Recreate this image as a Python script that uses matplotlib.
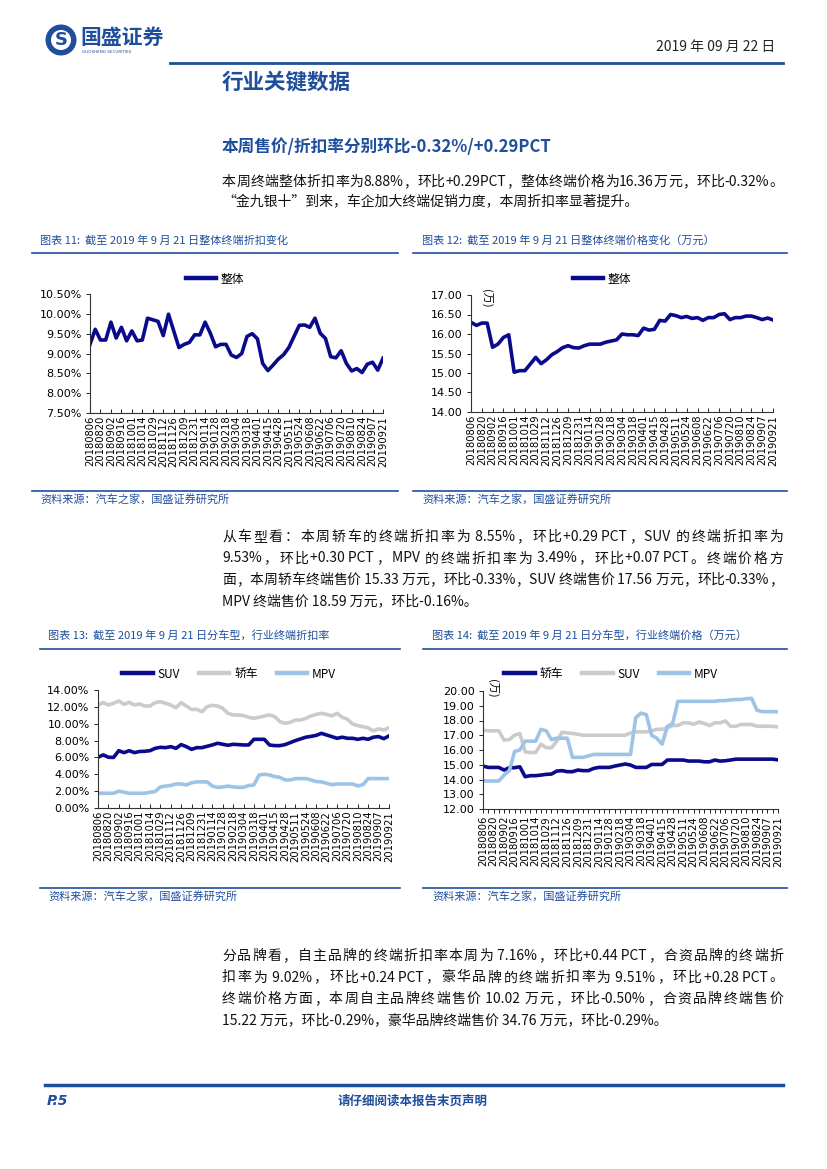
import re
import numpy as np
import matplotlib.pyplot as plt
from matplotlib.lines import Line2D
from matplotlib.patches import Ellipse

plt.rcParams['font.family'] = ['Noto Sans CJK SC', 'DejaVu Sans']

W, H = 827, 1169

# --- data ---
tick_labels = ["20180806", "20180820", "20180902", "20180916", "20181001", "20181014",
               "20181029", "20181112", "20181126", "20181209", "20181231", "20190114",
               "20190128", "20190218", "20190304", "20190318", "20190401", "20190415",
               "20190428", "20190511", "20190524", "20190608", "20190622", "20190706",
               "20190720", "20190810", "20190824", "20190907", "20190921"]

overall_discount = [9.23, 9.61, 9.34, 9.34, 9.79, 9.39, 9.66, 9.32, 9.57, 9.32,
                    9.34, 9.89, 9.85, 9.81, 9.45, 9.99, 9.57, 9.15, 9.23, 9.28,
                    9.47, 9.47, 9.79, 9.51, 9.17, 9.23, 9.23, 8.96, 8.90, 9.00,
                    9.43, 9.50, 9.37, 8.75, 8.57, 8.71, 8.86, 8.97, 9.15, 9.43,
                    9.71, 9.72, 9.66, 9.89, 9.51, 9.38, 8.92, 8.89, 9.07, 8.75,
                    8.56, 8.62, 8.52, 8.73, 8.78, 8.58, 8.88]

overall_price = [16.30, 16.22, 16.28, 16.28, 15.66, 15.74, 15.91, 15.98, 15.02, 15.06,
                 15.06, 15.23, 15.40, 15.24, 15.34, 15.47, 15.55, 15.65, 15.70, 15.65,
                 15.64, 15.70, 15.74, 15.74, 15.74, 15.79, 15.82, 15.85, 16.00, 15.98,
                 15.98, 15.96, 16.15, 16.10, 16.12, 16.35, 16.33, 16.50, 16.47, 16.42,
                 16.45, 16.40, 16.42, 16.35, 16.42, 16.42, 16.50, 16.52, 16.37, 16.42,
                 16.42, 16.46, 16.46, 16.42, 16.37, 16.41, 16.36]

suv_discount = [6.02, 6.30, 6.02, 6.00, 6.80, 6.57, 6.80, 6.57, 6.70, 6.73,
                6.80, 7.08, 7.20, 7.16, 7.28, 7.08, 7.52, 7.28, 6.96, 7.16,
                7.16, 7.32, 7.48, 7.68, 7.56, 7.44, 7.56, 7.52, 7.48, 7.48,
                8.15, 8.15, 8.15, 7.48, 7.40, 7.40, 7.52, 7.76, 8.00, 8.20,
                8.40, 8.50, 8.62, 8.86, 8.66, 8.47, 8.27, 8.40, 8.27, 8.27,
                8.15, 8.27, 8.15, 8.40, 8.47, 8.23, 8.55]

sedan_discount = [12.22, 12.50, 12.22, 12.42, 12.70, 12.30, 12.54, 12.22, 12.34, 12.10,
                  12.10, 12.50, 12.62, 12.42, 12.22, 11.90, 12.50, 12.10, 11.70, 11.70,
                  11.43, 12.02, 12.18, 12.10, 11.83, 11.23, 11.04, 11.04, 10.96, 10.76,
                  10.64, 10.76, 10.92, 11.04, 10.84, 10.25, 10.05, 10.17, 10.44, 10.44,
                  10.64, 10.92, 11.11, 11.23, 11.11, 10.92, 11.23, 10.76, 10.52, 9.97,
                  9.77, 9.65, 9.50, 9.15, 9.40, 9.25, 9.53]

mpv_discount = [1.75, 1.75, 1.75, 1.75, 2.00, 1.87, 1.75, 1.75, 1.75, 1.75,
                1.87, 1.95, 2.50, 2.60, 2.67, 2.85, 2.85, 2.73, 3.00, 3.10,
                3.10, 3.10, 2.60, 2.45, 2.50, 2.60, 2.50, 2.45, 2.45, 2.67,
                2.73, 3.92, 4.00, 3.92, 3.72, 3.64, 3.33, 3.33, 3.49, 3.49,
                3.49, 3.33, 3.13, 3.10, 2.93, 2.77, 2.85, 2.85, 2.85, 2.85,
                2.62, 2.77, 3.49, 3.49, 3.49, 3.49, 3.49]

sedan_price = [14.91, 14.82, 14.82, 14.82, 14.64, 14.80, 14.80, 14.86, 14.19, 14.26,
               14.26, 14.30, 14.35, 14.37, 14.57, 14.60, 14.53, 14.53, 14.64, 14.60,
               14.60, 14.75, 14.82, 14.82, 14.82, 14.91, 14.98, 15.05, 14.98, 14.82,
               14.82, 14.82, 15.02, 15.02, 15.02, 15.32, 15.32, 15.32, 15.32, 15.25,
               15.25, 15.25, 15.20, 15.20, 15.32, 15.25, 15.27, 15.32, 15.38, 15.38,
               15.38, 15.38, 15.38, 15.38, 15.38, 15.38, 15.33]

suv_price = [17.34, 17.30, 17.30, 17.30, 16.67, 16.71, 17.00, 17.12, 15.88, 15.83,
             15.83, 16.40, 16.15, 16.15, 16.60, 17.20, 17.16, 17.12, 17.07, 17.00,
             17.00, 17.00, 17.00, 17.00, 17.00, 17.00, 17.00, 17.00, 17.16, 17.23,
             17.23, 17.23, 17.30, 17.40, 17.40, 17.50, 17.66, 17.66, 17.84, 17.84,
             17.75, 17.90, 17.80, 17.66, 17.84, 17.84, 17.97, 17.61, 17.61, 17.73,
             17.73, 17.73, 17.61, 17.61, 17.61, 17.61, 17.56]

mpv_price = [13.90, 13.90, 13.90, 13.90, 14.30, 14.60, 15.90, 16.00, 16.60, 16.60,
             16.60, 17.40, 17.30, 16.70, 16.80, 16.80, 16.80, 15.50, 15.50, 15.50,
             15.60, 15.70, 15.70, 15.70, 15.70, 15.70, 15.70, 15.70, 15.70, 18.20,
             18.50, 18.40, 17.00, 16.80, 16.40, 17.60, 17.80, 19.30, 19.30, 19.30,
             19.30, 19.30, 19.30, 19.30, 19.30, 19.35, 19.35, 19.40, 19.42, 19.42,
             19.48, 19.50, 18.70, 18.60, 18.60, 18.60, 18.59]

body1 = ["本周终端整体折扣率为8.88%，环比+0.29PCT，整体终端价格为16.36万元，环比-0.32%。",
         "“金九银十”到来，车企加大终端促销力度，本周折扣率显著提升。"]
body2 = ["从车型看：本周轿车的终端折扣率为 8.55%，环比+0.29 PCT，SUV 的终端折扣率为",
         "9.53%，环比+0.30 PCT，MPV 的终端折扣率为 3.49%，环比+0.07 PCT。终端价格方",
         "面，本周轿车终端售价 15.33 万元，环比-0.33%，SUV 终端售价 17.56 万元，环比-0.33%，",
         "MPV 终端售价 18.59 万元，环比-0.16%。"]
body3 = ["分品牌看，自主品牌的终端折扣率本周为 7.16%，环比+0.44 PCT，合资品牌的终端折",
         "扣率为 9.02%，环比+0.24 PCT，豪华品牌的终端折扣率为 9.51%，环比+0.28 PCT。",
         "终端价格方面，本周自主品牌终端售价 10.02 万元，环比-0.50%，合资品牌终端售价",
         "15.22 万元，环比-0.29%，豪华品牌终端售价 34.76 万元，环比-0.29%。"]

NAVY = "#0A0A8C"
GRAY = "#CBCBCB"
LIGHT = "#9DC3E6"
BLUE = "#1F4E9C"

fig = plt.figure(figsize=(8.27, 11.69), dpi=100)
renderer = fig.canvas.get_renderer()


def text(x, y, s, **kw):
    kw.setdefault("va", "center")
    return fig.text(x / W, 1 - y / H, s, **kw)


def hline(x0, x1, y, lw=1.2, color=BLUE):
    fig.add_artist(Line2D([x0 / W, x1 / W], [1 - y / H] * 2, lw=lw, color=color))


def paragraph(lines, x0, x1, y0, dy, **kw):
    # justified lines, the last one left aligned
    for i, line in enumerate(lines):
        y = y0 + i * dy
        if i == len(lines) - 1:
            text(x0, y, line, **kw)
            continue
        tokens = re.findall(r"[\x20-\x7e]+|.", line)
        items = [text(x0, y, tok, **kw) for tok in tokens]
        widths = [t.get_window_extent(renderer).width for t in items]
        gap = (x1 - x0 - sum(widths)) / max(len(items) - 1, 1)
        x = x0
        for t, w in zip(items, widths):
            t.set_x(x / W)
            x += w + gap


def make_axes(left, top, right, bottom):
    return fig.add_axes([left / W, 1 - bottom / H, (right - left) / W, (bottom - top) / H])


def draw_chart(ax, series, names, colors, ylim, yticks, yfmt, legend_xy,
               tick_step=2, tick_dir="in"):
    x = np.arange(len(series[0]))
    for vals, name, c in zip(series, names, colors):
        ax.plot(x, vals, color=c, lw=2.6, label=name, solid_joinstyle="round")
    ax.set_xlim(0, len(x) - 1)
    ax.set_ylim(*ylim)
    ax.set_yticks(yticks)
    ax.set_yticklabels([yfmt.format(v) for v in yticks], fontsize=8,
                       family="DejaVu Sans")
    ax.set_xticks(x[::2])
    ax.set_xticklabels(tick_labels, rotation=90, fontsize=7.2, family="DejaVu Sans")
    if tick_step == 1:
        ax.set_xticks(x, minor=True)
        ax.tick_params(axis="x", which="minor", length=3, direction=tick_dir, width=0.6)
    ax.tick_params(axis="x", length=3, direction=tick_dir, width=0.6, pad=2)
    ax.tick_params(axis="y", length=3, width=0.6, pad=3)
    for s in ["top", "right"]:
        ax.spines[s].set_visible(False)
    for s in ["left", "bottom"]:
        ax.spines[s].set_linewidth(0.8)
        ax.spines[s].set_color("#333333")
    leg = ax.legend(loc="center", bbox_to_anchor=(legend_xy[0] / W, 1 - legend_xy[1] / H),
                    bbox_transform=fig.transFigure, ncol=len(series), frameon=False,
                    fontsize=8.5, handlelength=2.6, columnspacing=1.6, handletextpad=0.4)
    for h in leg.get_lines():
        h.set_linewidth(3.2)
    return ax


# --- header ---
fig.add_artist(Ellipse((61 / W, 1 - 40 / H), 31 / W, 31 / H, transform=fig.transFigure,
                       facecolor=BLUE, edgecolor="none"))
fig.add_artist(Ellipse((61 / W, 1 - 40 / H), 20 / W, 20 / H, transform=fig.transFigure,
                       facecolor="white", edgecolor="none"))
text(61, 40, "S", ha="center", fontsize=13, color=BLUE, weight="bold", family="DejaVu Sans")
text(80, 37, "国盛证券", fontsize=15, color=BLUE, weight="bold")
text(82, 52, "GUOSHENG SECURITIES", fontsize=3, color=BLUE, family="DejaVu Sans")
text(775, 47, "2019 年 09 月 22 日", ha="right", fontsize=10, color="#222222")
hline(170, 783, 63, lw=2.0)

text(222, 82, "行业关键数据", fontsize=15.5, color=BLUE, weight="bold")
text(222, 147, "本周售价/折扣率分别环比-0.32%/+0.29PCT", fontsize=12, color=BLUE, weight="bold")

body_kw = dict(fontsize=10, color="#111111")
paragraph(body1, 222, 783, 182, 20, **body_kw)
paragraph(body2, 222, 783, 537, 21.5, **body_kw)
paragraph(body3, 222, 783, 956, 21.5, **body_kw)

# --- captions / source lines ---
cap_kw = dict(fontsize=8, color=BLUE, style="italic")
text(40, 240, "图表 11:  截至 2019 年 9 月 21 日整体终端折扣变化", **cap_kw)
text(422, 240, "图表 12:  截至 2019 年 9 月 21 日整体终端价格变化（万元）", **cap_kw)
hline(32, 398, 253)
hline(413, 787, 253)
hline(32, 398, 491)
hline(413, 787, 491)
text(40, 499, "资料来源：汽车之家，国盛证券研究所", **cap_kw)
text(422, 499, "资料来源：汽车之家，国盛证券研究所", **cap_kw)

text(48, 635, "图表 13:  截至 2019 年 9 月 21 日分车型，行业终端折扣率", **cap_kw)
text(432, 635, "图表 14:  截至 2019 年 9 月 21 日分车型，行业终端价格（万元）", **cap_kw)
hline(40, 400, 649)
hline(423, 787, 649)
hline(40, 400, 888)
hline(423, 787, 888)
text(48, 896, "资料来源：汽车之家，国盛证券研究所", **cap_kw)
text(432, 896, "资料来源：汽车之家，国盛证券研究所", **cap_kw)

# --- charts ---
ax1 = make_axes(90, 294, 383, 413)
draw_chart(ax1, [overall_discount], ["整体"], [NAVY], (7.5, 10.5),
           np.arange(7.5, 10.51, 0.5), "{:.2f}%", (215, 279))

ax2 = make_axes(471, 295, 773, 412)
draw_chart(ax2, [overall_price], ["整体"], [NAVY], (14.0, 17.0),
           np.arange(14.0, 17.01, 0.5), "{:.2f}", (602, 279))
text(486, 298, "(万)", rotation=270, ha="center", fontsize=8)

ax3 = make_axes(98, 690, 389, 808)
draw_chart(ax3, [suv_discount, sedan_discount, mpv_discount], ["SUV", "轿车", "MPV"],
           [NAVY, GRAY, LIGHT], (0, 14), np.arange(0, 14.1, 2), "{:.2f}%", (229, 674))

ax4 = make_axes(483, 691, 778, 809)
draw_chart(ax4, [sedan_price, suv_price, mpv_price], ["轿车", "SUV", "MPV"],
           [NAVY, GRAY, LIGHT], (12, 20), np.arange(12, 20.1, 1), "{:.2f}", (611, 674),
           tick_step=1, tick_dir="out")
text(492, 688, "(万)", rotation=270, ha="center", fontsize=8)

# --- footer ---
hline(45, 783, 1085, lw=2.5)
text(47, 1101, "P.5", fontsize=10, color=BLUE, weight="bold", style="italic",
     family="DejaVu Sans")
text(413, 1101, "请仔细阅读本报告末页声明", ha="center", fontsize=9, color=BLUE,
     weight="bold", style="italic")

fig.savefig("out.png", dpi=100)
